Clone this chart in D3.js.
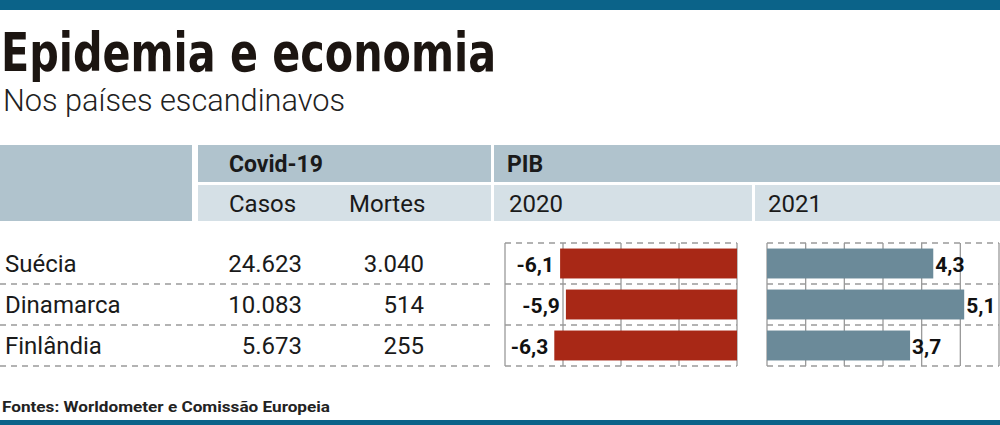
<!DOCTYPE html>
<html lang="pt">
<head>
<meta charset="UTF-8">
<title>Epidemia e economia</title>
<script src="https://d3js.org/d3.v7.min.js"></script>
<style>
    body { margin: 0; background: #fff; }
    svg { display: block; }
    text { font-family: Roboto, "Liberation Sans", sans-serif; fill: #1a1a1a; }
</style>
</head>
<body>
<svg width="1000" height="425"></svg>
<script>
    const countries = ["Suécia", "Dinamarca", "Finlândia"];
    const casos = [24623, 10083, 5673];
    const mortes = [3040, 514, 255];
    const pib2020 = [-6.1, -5.9, -6.3];
    const pib2021 = [4.3, 5.1, 3.7];
    const ticks2020 = [-8, -6, -4, -2, 0];
    const ticks2021 = [0, 1, 2, 3, 4, 5, 6];

    const svg = d3.select("svg");
    const pt = d3.formatLocale({ decimal: ",", thousands: ".", grouping: [3], currency: ["", " €"], minus: "-" });
    const fmtInt = pt.format(",d");
    const fmtDec = pt.format(".1f");

    const blue = "#0b6389";
    const headDark = "#b0c3cd";
    const headLight = "#d5e0e6";
    const grid = "#9a9a9a";

    // top and bottom stripes
    svg.append("rect").attr("x", 0).attr("y", 0).attr("width", 1000).attr("height", 10).attr("fill", blue);
    svg.append("rect").attr("x", 0).attr("y", 420).attr("width", 1000).attr("height", 5).attr("fill", blue);

    // title
    svg.append("text")
        .attr("x", 1).attr("y", 71)
        .attr("textLength", 495).attr("lengthAdjust", "spacingAndGlyphs")
        .style("font-family", "'DejaVu Sans Condensed', 'DejaVu Sans', sans-serif")
        .style("font-weight", 700).style("font-size", "53px").style("fill", "#1c1511")
        .text("Epidemia e economia");
    svg.append("text")
        .attr("x", 3).attr("y", 111)
        .attr("textLength", 342).attr("lengthAdjust", "spacingAndGlyphs")
        .style("font-weight", 300).style("font-size", "32px").style("fill", "#222")
        .text("Nos países escandinavos");

    // header blocks
    const head = svg.append("g");
    head.append("rect").attr("x", 0).attr("y", 145).attr("width", 192).attr("height", 76).attr("fill", headDark);
    head.append("rect").attr("x", 198).attr("y", 145).attr("width", 293).attr("height", 37).attr("fill", headDark);
    head.append("rect").attr("x", 198).attr("y", 185).attr("width", 293).attr("height", 36).attr("fill", headLight);
    head.append("rect").attr("x", 494).attr("y", 145).attr("width", 506).attr("height", 37).attr("fill", headDark);
    head.append("rect").attr("x", 494).attr("y", 185).attr("width", 258).attr("height", 36).attr("fill", headLight);
    head.append("rect").attr("x", 755).attr("y", 185).attr("width", 245).attr("height", 36).attr("fill", headLight);

    head.append("text").attr("x", 229).attr("y", 172)
        .style("font-weight", 700).style("font-size", "23px").text("Covid-19");
    head.append("text").attr("x", 507).attr("y", 172)
        .style("font-weight", 700).style("font-size", "23px").text("PIB");
    [["Casos", 229], ["Mortes", 349], ["2020", 509], ["2021", 768]].forEach(([t, x]) => {
        head.append("text").attr("x", x).attr("y", 212)
            .style("font-size", "24px").text(t);
    });

    // rows
    const y = d3.scaleBand().domain(countries).range([243, 366])
        .paddingInner(0.27).paddingOuter(0.135);
    const step = y.step();
    const rowEdges = [243].concat(countries.map((c, i) => 243 + step * (i + 1)));

    const table = svg.append("g");
    table.selectAll("line.sep").data(rowEdges.slice(1)).join("line")
        .attr("class", "sep")
        .attr("x1", 0).attr("x2", 495)
        .attr("y1", d => d).attr("y2", d => d)
        .attr("stroke", grid).attr("stroke-width", 1.3).attr("stroke-dasharray", "6,5");

    countries.forEach((c, i) => {
        const by = y(c) + y.bandwidth() / 2 + 8;
        table.append("text").attr("x", 5).attr("y", by).style("font-size", "24px").text(c);
        table.append("text").attr("x", 302).attr("y", by).attr("text-anchor", "end")
            .style("font-size", "24px").text(fmtInt(casos[i]));
        table.append("text").attr("x", 424).attr("y", by).attr("text-anchor", "end")
            .style("font-size", "24px").text(fmtInt(mortes[i]));
    });

    // bar panels
    function panel(values, domain, range, ticks, color, negative) {
        const x = d3.scaleLinear().domain(domain).range(range);
        const g = svg.append("g");
        g.selectAll("line.h").data(rowEdges).join("line")
            .attr("x1", range[0]).attr("x2", range[1])
            .attr("y1", d => d).attr("y2", d => d)
            .attr("stroke", grid).attr("stroke-width", 1.3).attr("stroke-dasharray", "6,5");
        g.selectAll("line.v").data(ticks).join("line")
            .attr("x1", d => x(d)).attr("x2", d => x(d))
            .attr("y1", rowEdges[0]).attr("y2", rowEdges[rowEdges.length - 1])
            .attr("stroke", grid).attr("stroke-width", 1.3);
        g.selectAll("rect").data(values).join("rect")
            .attr("x", d => x(Math.min(0, d)))
            .attr("y", (d, i) => y(countries[i]))
            .attr("width", d => Math.abs(x(d) - x(0)))
            .attr("height", y.bandwidth())
            .attr("fill", color);
        g.selectAll("text").data(values).join("text")
            .attr("x", d => negative ? x(d) - 6 : x(d) + 2)
            .attr("y", (d, i) => y(countries[i]) + y.bandwidth() / 2 + 8)
            .attr("text-anchor", negative ? "end" : "start")
            .style("font-weight", 700).style("font-size", "21px").style("fill", "#111")
            .text(d => fmtDec(d));
    }
    panel(pib2020, [-8, 0], [505, 737], ticks2020, "#a82816", true);
    panel(pib2021, [0, 6], [767, 999], ticks2021, "#6b8a99", false);

    // source
    svg.append("text").attr("x", 2).attr("y", 412)
        .attr("textLength", 328).attr("lengthAdjust", "spacingAndGlyphs")
        .style("font-weight", 700).style("font-size", "15px").style("fill", "#222")
        .text("Fontes: Worldometer e Comissão Europeia");
</script>
</body>
</html>
